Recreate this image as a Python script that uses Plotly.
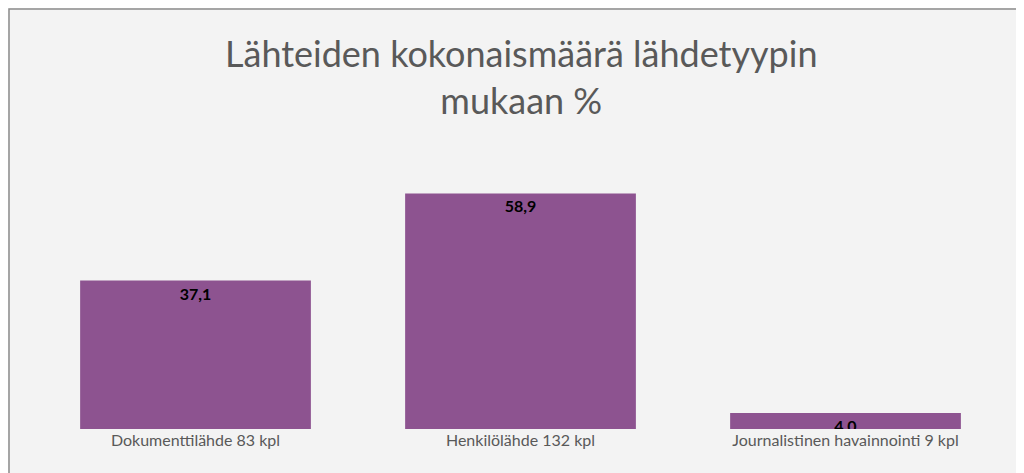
import plotly.graph_objects as go

categories = ["Dokumenttilähde 83 kpl", "Henkilölähde 132 kpl", "Journalistinen havainnointi 9 kpl"]
values = [37.1, 58.9, 4.0]

fig = go.Figure(go.Bar(
    x=categories, y=values,
    marker=dict(color="#8d5390", line=dict(width=0)),
    texttemplate="%{y:.1f}", textposition="inside", insidetextanchor="end",
    constraintext="none",
    textfont=dict(family="Lato", size=16, color="black", weight="bold"),
))
fig.update_layout(
    width=1024, height=473, separators=", ",
    margin=dict(l=25, r=24, t=181, b=52, autoexpand=False),
    paper_bgcolor="#f3f3f3", plot_bgcolor="rgba(0,0,0,0)",
    bargap=0.29, showlegend=False,
    xaxis=dict(showline=False, ticks="", automargin=False,
               tickfont=dict(family="Lato", size=16, color="#595959")),
    yaxis=dict(range=[0, 60], visible=False, automargin=False),
    annotations=[dict(text="Lähteiden kokonaismäärä lähdetyypin<br>mukaan %", xref="paper", yref="paper",
                      x=0.5, xanchor="center", y=1 + 160/240, yanchor="top", showarrow=False,
                      font=dict(family="Lato", size=36, color="#595959"))],
    shapes=[dict(type="rect", xref="paper", yref="paper", x0=-24/975, x1=1+23/975,
                 y0=-51/240, y1=1+180/240, line=dict(color="#8c8c8c", width=1.5))],
)
fig.write_html("out.html")
